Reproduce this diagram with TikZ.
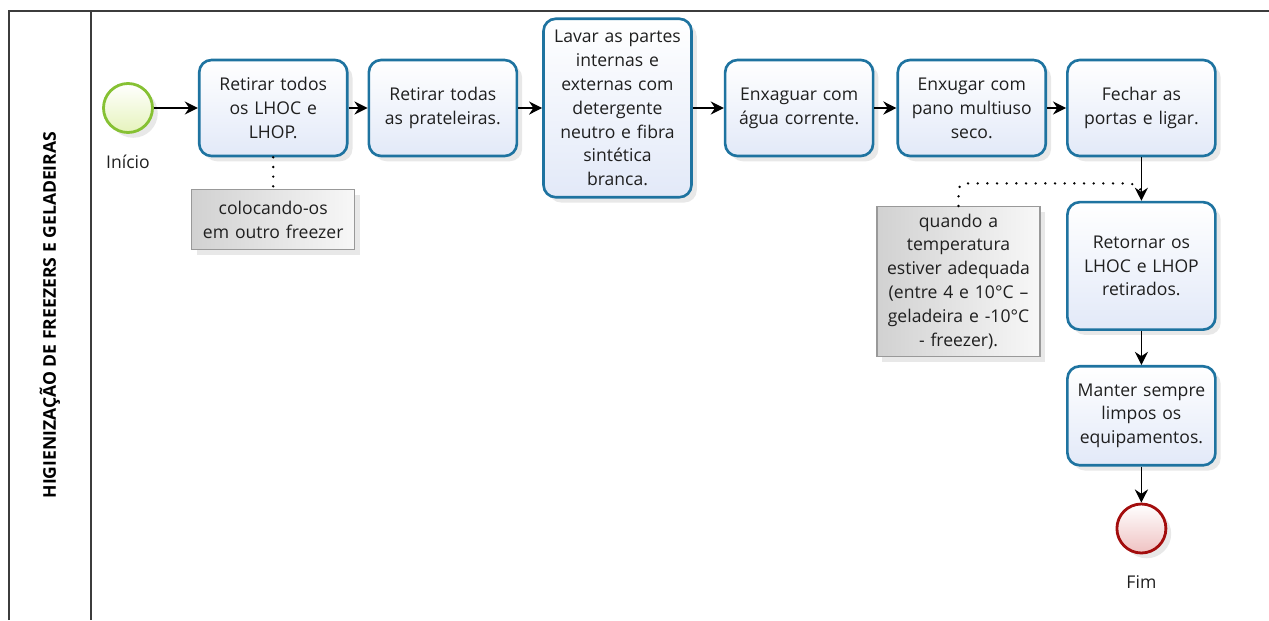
\documentclass[tikz,border=0pt]{standalone}
\usepackage{fontspec}
\setmainfont{Open Sans}
\usetikzlibrary{positioning,calc}
\usetikzlibrary{shadows,arrows.meta}

\definecolor{taskblue}{HTML}{1E73A0}
\definecolor{taskfill}{HTML}{E2E9F8}
\definecolor{startgreen}{HTML}{86C133}
\definecolor{startfill}{HTML}{E6F3BC}
\definecolor{endred}{HTML}{A30D0D}
\definecolor{endfill}{HTML}{EFC2C2}
\definecolor{lanegray}{HTML}{3C3C3C}

\tikzset{
  txt/.style={font=\fontsize{10}{13.6}\selectfont, text=black!88, align=center},
  shad/.style={drop shadow={opacity=0.18, shadow xshift=3pt, shadow yshift=-3pt}},
  task/.style={txt, shad, draw=taskblue, line width=1.5pt, rounded corners=7pt,
    top color=white, bottom color=taskfill, minimum width=2.96cm,
    minimum height=1.92cm, text width=2.85cm, inner sep=1pt},
  note/.style={txt, shad, draw=black!40, line width=0.6pt, left color=black!18,
    right color=black!3, minimum width=3.26cm, text width=3.15cm, inner sep=1pt},
  evt/.style={circle, shad, line width=1.6pt, minimum size=0.98cm},
  lbl/.style={txt},
  flow/.style={-{Stealth[length=7.5pt,width=7.5pt,inset=2.5pt]}, line width=0.8pt},
  assoc/.style={line width=1.5pt, dash pattern=on 0pt off 5.5pt, line cap=round},
  lane/.style={draw=lanegray, line width=1.1pt}
}

\begin{document}
\begin{tikzpicture}
\useasboundingbox (0,0) rectangle (25.38,-12.4);

% pool and lane
\draw[lane] (0.18,-12.4) |- (25.38,-0.22);
\draw[lane] (1.82,-0.22) -- (1.82,-12.4);
\node[rotate=90, font=\fontsize{10}{11}\selectfont\bfseries] (lane) at (1.0,-6.3) {HIGIENIZAÇÃO DE FREEZERS E GELADEIRAS};

% events and tasks
\node[evt, draw=startgreen, top color=white, bottom color=startfill]	(start)	at (2.56,-2.16) {};
\node[lbl, below = 0.3cm of start]	(ini)	{Início};
\node[task, right = 0.88cm of start]	(t1)	{Retirar todos\\os LHOC e\\LHOP.};
\node[task, right = 0.38cm of t1]	(t2)	{Retirar todas\\as prateleiras.};
\node[task, right = 0.48cm of t2, minimum height=3.57cm]	(t3)	{Lavar as partes\\internas e\\externas com\\detergente\\neutro e fibra\\sintética\\branca.};
\node[task, right = 0.62cm of t3]	(t4)	{Enxaguar com\\água corrente.};
\node[task, right = 0.44cm of t4]	(t5)	{Enxugar com\\pano multiuso\\seco.};
\node[task, right = 0.38cm of t5]	(t6)	{Fechar as\\portas e ligar.};
\node[task, below = 0.87cm of t6, minimum height=2.55cm]	(t7)	{Retornar os\\LHOC e LHOP\\retirados.};
\node[task, below = 0.68cm of t7, minimum height=1.98cm]	(t8)	{Manter sempre\\limpos os\\equipamentos.};
\node[evt, draw=endred, top color=white, bottom color=endfill, below = 0.72cm of t8]	(end)	{};
\node[lbl, below = 0.3cm of end]	(fim)	{Fim};

% annotations
\node[note, below = 0.64cm of t1, minimum height=1.2cm]	(a1)	{colocando-os\\em outro freezer};
\node[note, minimum height=3.0cm]	(a2)	at (19.17,-5.63)	{quando a\\temperatura\\estiver adequada\\(entre 4 e 10°C –\\geladeira e -10°C\\- freezer).};
\coordinate (c1) at ($(t6.south)!0.6!(t7.north)$);

% connect nodes
\draw[flow] (start) -- (t1);
\draw[flow] (t1) -- (t2);
\draw[flow] (t2) -- (t3);
\draw[flow] (t3) -- (t4);
\draw[flow] (t4) -- (t5);
\draw[flow] (t5) -- (t6);
\draw[flow] (t6) -- (t7);
\draw[flow] (t7) -- (t8);
\draw[flow] (t8) -- (end);

% associations
\draw[assoc] (t1.south) -- (a1.north);
\draw[assoc, rounded corners=4pt] (a2.north) |- ([xshift=-0.12cm]c1) -- ([yshift=-0.15cm]c1);
\end{tikzpicture}
\end{document}
